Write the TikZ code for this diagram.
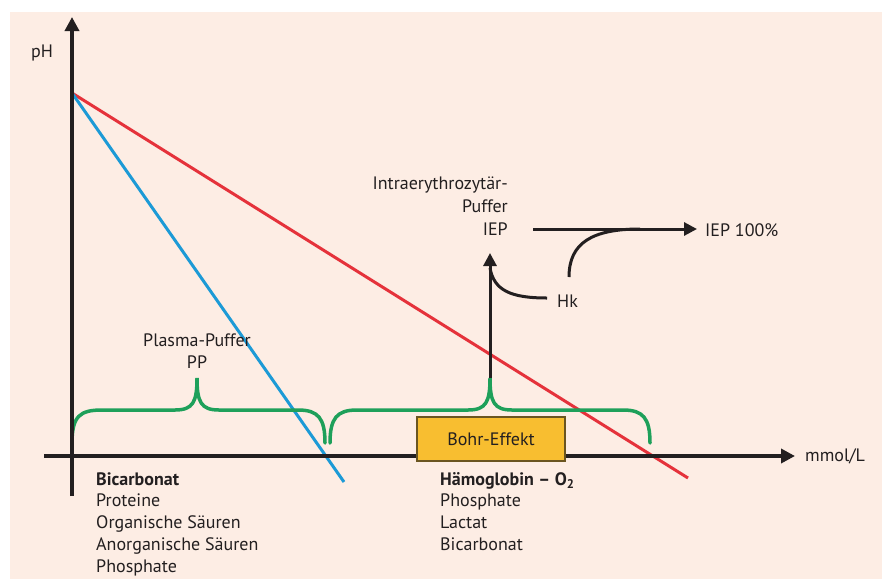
\documentclass[tikz,border=0pt]{standalone}
\usepackage{fontspec}
\setmainfont{PT Sans}
\usetikzlibrary{arrows.meta}
\definecolor{bgbeige}{HTML}{FDEDE4}
\definecolor{redline}{HTML}{E5323B}
\definecolor{blueline}{HTML}{1C9AD6}
\definecolor{bracegreen}{HTML}{1EA05A}
\definecolor{boxgold}{HTML}{F8BE30}
\definecolor{boxedge}{HTML}{6B5520}
\definecolor{txt}{HTML}{231F20}
\tikzset{
  axis/.style={line width=4pt, draw=txt, -{Triangle[length=14pt,width=14pt]}},
  blackarrow/.style={line width=3pt, draw=txt, -{Triangle[length=13pt,width=13pt]}},
  blackcurve/.style={line width=3pt, draw=txt},
  bracestyle/.style={line width=3.5pt, draw=bracegreen, line cap=round},
  lbl/.style={font=\fontsize{18}{22}\selectfont, text=txt, inner sep=0pt},
  listtxt/.style={font=\fontsize{18}{21.8}\selectfont, text=txt, inner sep=0pt, align=left, anchor=north west},
}
\begin{document}
\begin{tikzpicture}[x=1pt,y=-1pt]
\useasboundingbox (0,0) rectangle (882,579);
\fill[bgbeige] (10,12) rectangle (882,579);

% coordinates
\coordinate (yb) at (72,496);
\coordinate (yt) at (72,17);
\coordinate (xl) at (44,456);
\coordinate (xr) at (795,456);
\coordinate (orig) at (72,93);
\coordinate (redend) at (688,478);
\coordinate (blueend) at (344,482);

% lines
\draw[redline, line width=3pt] (orig) -- (redend);
\draw[blueline, line width=3pt] (orig) -- (blueend);

% braces
\draw[bracestyle] (72,443) .. controls (72,416) and (80,410) .. (102,410) -- (175,410) .. controls (193,410) and (197,402) .. (197,378)
  .. controls (197,402) and (201,410) .. (219,410) -- (298,410) .. controls (318,410) and (325,418) .. (325,443);
\draw[bracestyle] (330,443) .. controls (330,418) and (337,410) .. (357,410) -- (468,410) .. controls (486,410) and (490,402) .. (490,378)
  .. controls (490,402) and (494,410) .. (512,410) -- (623,410) .. controls (643,410) and (650,418) .. (650,443);

% axes
\draw[axis] (yb) -- (yt);
\draw[axis] (xl) -- (xr);

% Bohr box
\node[draw=boxedge, fill=boxgold, line width=1.2pt, minimum width=148pt, minimum height=44pt, inner sep=0pt,
      font=\fontsize{18}{22}\selectfont, text=txt] (bohr) at (491,439) {Bohr-Effekt};

% labels
\node[lbl, anchor=base west] (ph) at (31,57) {pH};
\node[lbl, anchor=base west] (mmol) at (805,461) {mmol/L};
\node[lbl, align=center, anchor=north, font=\fontsize{18}{21.5}\selectfont] (pp) at (197,334) {Plasma-Puffer\\PP};
\node[lbl, align=right, anchor=north east, font=\fontsize{18}{22.8}\selectfont] (iep) at (508,177) {Intraerythrozytär-\\Puffer\\IEP};
\node[lbl, anchor=base west] (iep100) at (705,236) {IEP 100\%};
\node[lbl, anchor=base west] (hk) at (557,307) {Hk};

\node[listtxt] (leftlist) at (96,472) {\textbf{Bicarbonat}\\Proteine\\Organische Säuren\\Anorganische Säuren\\Phosphate};
\node[listtxt] (rightlist) at (440,472) {\textbf{Hämoglobin – O\textsubscript{2}}\\Phosphate\\Lactat\\Bicarbonat};

% IEP arrows
\coordinate (bracetip) at (490,378);
\coordinate (uptip) at (490,253);
\draw[blackarrow] (bracetip) -- (uptip);
\coordinate (hkend) at (547,298);
\draw[blackcurve] (hkend) .. controls (510,298) and (494,290) .. (490,268);
\coordinate (hstart) at (533,229);
\coordinate (hend) at (697,229);
\draw[blackarrow] (hstart) -- (hend);
\coordinate (curvestart) at (569,277);
\draw[blackcurve] (curvestart) .. controls (569,243) and (592,229) .. (640,229);
\end{tikzpicture}
\end{document}
